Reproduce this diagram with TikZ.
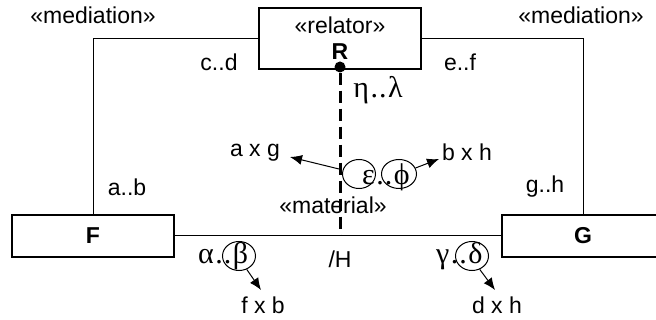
\documentclass[tikz,border=0pt]{standalone}
\usepackage{fontspec}
\setmainfont{Liberation Sans}
\newfontfamily\gr{Liberation Serif}
\newcommand\gdd{\kern1.5pt.\kern1pt.\kern1.5pt}
\usetikzlibrary{shapes.geometric,arrows.meta}
\begin{document}
\begin{tikzpicture}[x=1pt,y=-1pt,
  every node/.style={inner sep=0pt,font=\fontsize{23}{25}\selectfont},
  classbox/.style={draw,line width=2pt,rectangle,minimum width=162pt},
  grk/.style={font=\fontsize{30}{32}\selectfont\gr},
  oval/.style={draw,line width=1pt,ellipse,minimum width=33pt,minimum height=29pt},
  arr/.style={line width=1pt,-{Latex[length=12pt,width=10pt]}},
  thin line/.style={line width=1pt},
  dashline/.style={line width=3pt,dash pattern=on 12pt off 6pt}
]
\useasboundingbox (0,0) rectangle (656,320);
% boxes
\node[classbox,minimum height=61pt] (rel) at (340,38.5) {};
\node (relst) at (340,25) {«relator»};
\node (R) at (340,52) {\bfseries R};
\node[classbox,minimum height=42pt] (F) at (93,236) {\bfseries F};
\node[classbox,minimum height=42pt] (G) at (583,236) {\bfseries G};
% mediation lines
\draw[thin line] (rel.west) -| (F.north);
\draw[thin line] (rel.east) -| (G.north);
\node (medL) at (93,15) {«mediation»};
\node (medR) at (581,15) {«mediation»};
\node (cd) at (219,62) {c..d};
\node (ef) at (460,62) {e..f};
\node (ab) at (127,187) {a..b};
\node (gh) at (545,187) {g..h};
% material line
\draw[thin line] (F.east) -- (G.west);
\node (mat) at (333,205) {«material»};
\node (H) at (340,259) {/H};
% derivation dashed line
\node[circle,fill,minimum size=11pt] (dot) at (340,67) {};
\coordinate (foot) at (340,236);
\draw[dashline] (dot) -- (foot);
\node[grk] (eta) at (378,90) {η\gdd λ};
% epsilon..phi
\node[grk,anchor=west] (eps) at (362,177) {ε\gdd ϕ};
\node[oval] (o1) at (359,174) {};
\node[oval,minimum width=35pt] (o2) at (399,174) {};
\node (axg) at (255,153) {a x g};
\node (bxh) at (467,152) {b x h};
\coordinate (axgtip) at (290,157);
\coordinate (bxhtip) at (439,159);
\coordinate (estart) at (339,169);
\draw[arr] (estart) -- (axgtip);
\draw[arr] (o2.20) -- (bxhtip);
% alpha..beta
\node[grk,anchor=west] (alpha) at (198,256) {α\gdd β};
\node[oval] (o3) at (239,256) {};
\node (fxb) at (263,305) {f x b};
\coordinate (fxbtip) at (261,290);
\draw[arr] (o3.-60) -- (fxbtip);
% gamma..delta
\node[grk,anchor=west] (gamma) at (436,256) {γ\gdd δ};
\node[oval] (o4) at (472,256) {};
\node (dxh) at (497,305) {d x h};
\coordinate (dxhtip) at (495,290);
\draw[arr] (o4.-60) -- (dxhtip);
\end{tikzpicture}
\end{document}
